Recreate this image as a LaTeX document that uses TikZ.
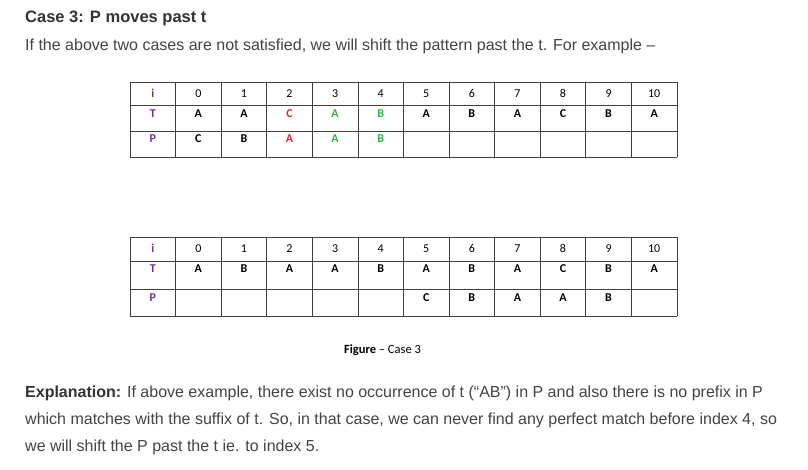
\documentclass[tikz,border=0pt]{standalone}
\usepackage{fontspec}
\setmainfont{Liberation Sans}
\newfontfamily\tablefont{Carlito}
\definecolor{headtext}{HTML}{333333}
\definecolor{bodytext}{HTML}{444444}
\definecolor{rowlabel}{HTML}{7030A0}
\definecolor{mismatch}{HTML}{E3262F}
\definecolor{match}{HTML}{2EB543}
\tikzset{
  grid/.style={draw=black!75,line width=0.8pt},
  txt/.style={anchor=base west,inner sep=0pt,text=bodytext,font=\fontsize{16}{19}\selectfont},
  lbl/.style={inner sep=0pt,text=rowlabel,font=\tablefont\bfseries\fontsize{12}{14}\selectfont},
  idx/.style={inner sep=0pt,font=\tablefont\fontsize{12}{14}\selectfont},
  chr/.style={inner sep=0pt,font=\tablefont\bfseries\fontsize{12}{14}\selectfont}
}
\begin{document}
\begin{tikzpicture}[x=1pt,y=-1pt]
  \useasboundingbox[fill=white] (0,0) rectangle (808,470);
  \node[txt,text=headtext,font=\bfseries\fontsize{16.5}{19}\selectfont] (title) at (25,22.5) {Case 3: P moves past t};
  \node[txt] (intro) at (25,51) {If the above two cases are not satisfied, we will shift the pattern past the t. For example –};
  % the two tables
  \def \Tables{
    a/82/105/131/157/93.5/113.5/138.5,
    b/237/261/289/316/248.5/268.5/298}
  \foreach \t / \ya / \yb / \yc / \yd / \yi / \yT / \yP in \Tables{
    \foreach \k in {0,...,12}{
      \path[grid] ({130+45.58*\k},\ya) -- ({130+45.58*\k},\yd);
    }
    \foreach \y in {\ya,\yb,\yc,\yd}{
      \path[grid] (130,\y) -- (677,\y);
    }
    \node[lbl] (\t-i) at (152.8,\yi) {i};
    \node[lbl] (\t-T) at (152.8,\yT) {T};
    \node[lbl] (\t-P) at (152.8,\yP) {P};
    \foreach \k in {0,...,10}{
      \node[idx] (\t-i-\k) at ({130+45.58*(\k+1.5)},\yi) {\k};
    }
  }
  \def \Letters{
    a/113.5/T/0/A/black, a/113.5/T/1/A/black, a/113.5/T/2/C/mismatch,
    a/113.5/T/3/A/match, a/113.5/T/4/B/match, a/113.5/T/5/A/black,
    a/113.5/T/6/B/black, a/113.5/T/7/A/black, a/113.5/T/8/C/black,
    a/113.5/T/9/B/black, a/113.5/T/10/A/black,
    a/138.5/P/0/C/black, a/138.5/P/1/B/black, a/138.5/P/2/A/mismatch,
    a/138.5/P/3/A/match, a/138.5/P/4/B/match,
    b/268.5/T/0/A/black, b/268.5/T/1/B/black, b/268.5/T/2/A/black,
    b/268.5/T/3/A/black, b/268.5/T/4/B/black, b/268.5/T/5/A/black,
    b/268.5/T/6/B/black, b/268.5/T/7/A/black, b/268.5/T/8/C/black,
    b/268.5/T/9/B/black, b/268.5/T/10/A/black,
    b/298/P/5/C/black, b/298/P/6/B/black, b/298/P/7/A/black,
    b/298/P/8/A/black, b/298/P/9/B/black}
  \foreach \t / \y / \r / \k / \s / \c in \Letters{
    \node[chr,text=\c] (\t-\r-\k) at ({130+45.58*(\k+1.5)},\y) {\s};
  }
  \node[anchor=base,inner sep=0pt,font=\tablefont\fontsize{12.5}{15}\selectfont] (caption) at (382.5,353.5) {\textbf{Figure} – Case 3};
  \node[txt] (expl1) at (25,397.5) {\textcolor{headtext}{\bfseries Explanation:} If above example, there exist no occurrence of t (“AB”) in P and also there is no prefix in P};
  \node[txt] (expl2) at (25,424.5) {which matches with the suffix of t. So, in that case, we can never find any perfect match before index 4, so};
  \node[txt] (expl3) at (25,451.5) {we will shift the P past the t ie. to index 5.};
\end{tikzpicture}
\end{document}
